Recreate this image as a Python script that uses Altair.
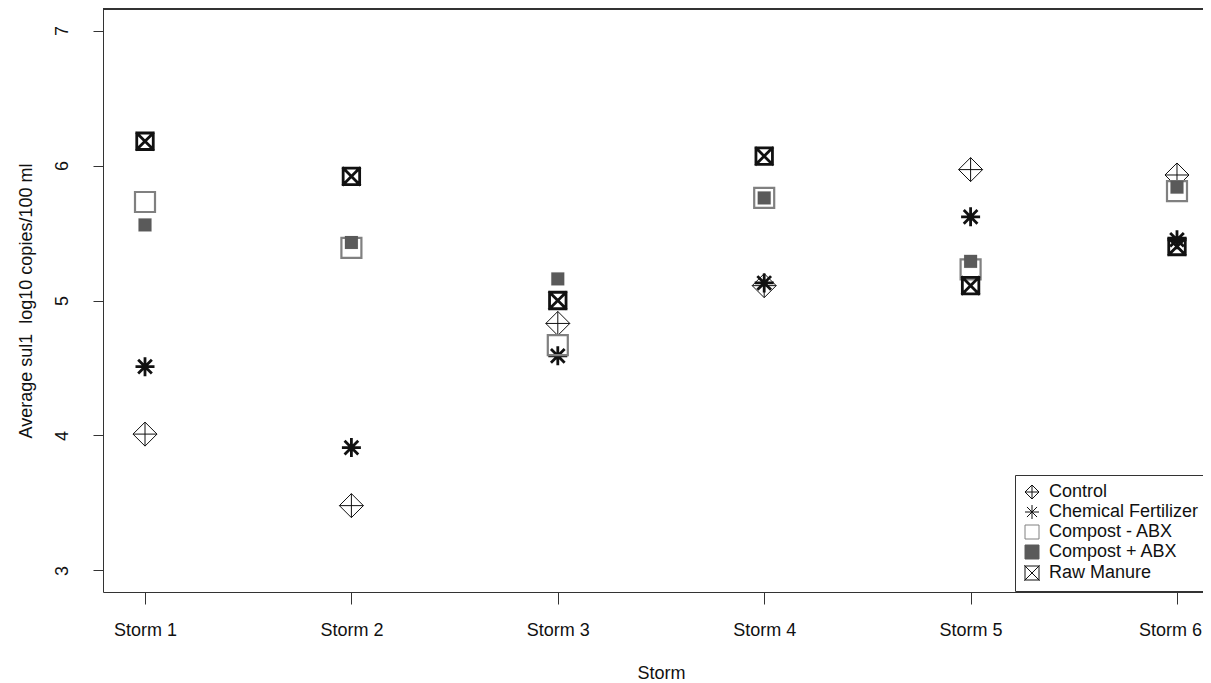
import altair as alt
import pandas as pd

storms = [1, 2, 3, 4, 5, 6]
series_names = ["Control", "Chemical Fertilizer", "Compost - ABX", "Compost + ABX", "Raw Manure"]
control = [4.01, 3.48, 4.83, 5.11, 5.97, 5.93]
chemical = [4.51, 3.91, 4.59, 5.13, 5.62, 5.45]
compost_minus = [5.73, 5.39, 4.67, 5.76, 5.23, 5.81]
compost_plus = [5.56, 5.43, 5.16, 5.76, 5.29, 5.84]
raw_manure = [6.18, 5.92, 5.00, 6.07, 5.11, 5.40]

values = [control, chemical, compost_minus, compost_plus, raw_manure]
rows = []
for name, vals in zip(series_names, values):
    for s, v in zip(storms, vals):
        rows.append({"Storm": s, "Series": name, "Value": v})
df = pd.DataFrame(rows)

shapes = [
    "M0,-1L1,0L0,1L-1,0Z M0,-1L0,1 M-1,0L1,0",
    "M0,-1L0,1 M-1,0L1,0 M-0.72,-0.72L0.72,0.72 M-0.72,0.72L0.72,-0.72",
    "M-1,-1L1,-1L1,1L-1,1Z",
    "M-1,-1L1,-1L1,1L-1,1Z",
    "M-1,-1L1,-1L1,1L-1,1Z M-1.1,-1.1L1.1,1.1 M-1.1,1.1L1.1,-1.1",
]
fills = ["transparent", "transparent", "transparent", "#5a5a5a", "transparent"]
strokes = ["#111111", "#111111", "#808080", "#5a5a5a", "#111111"]
stroke_widths = [1, 2.8, 2.2, 0.1, 2.8]
sizes = [576, 361, 400, 169, 272]

W = 1100
H = 583
FONT = "Liberation Sans"
FS = 18

x_enc = alt.X("Storm:Q",
              scale=alt.Scale(domain=[0.7965, 6.126], nice=False, zero=False),
              axis=alt.Axis(values=storms, labelExpr="'Storm ' + datum.value",
                            title="Storm", grid=False, tickSize=12, labelPadding=17,
                            labelOffset={"condition": {"test": "datum.value == 6", "value": -7}, "value": 0},
                            labelFontSize=FS, titleFontSize=FS, labelFont=FONT, titleFont=FONT,
                            labelColor="#111", titleColor="#111", domainColor="#333", tickColor="#333",
                            labelFlush=False, labelOverlap=False, titleFontWeight="normal",
                            titleX=558, titleY=81, titleBaseline="middle"))
y_enc = alt.Y("Value:Q",
              scale=alt.Scale(domain=[2.84, 7.16], nice=False, zero=False),
              axis=alt.Axis(values=[3, 4, 5, 6, 7], title="Average sul1\u00a0 log10 copies/100 ml",
                            grid=False, tickSize=10, labelAngle=270, labelAlign="center",
                            labelBaseline="middle", labelPadding=31,
                            labelFontSize=FS, titleFontSize=FS, labelFont=FONT, titleFont=FONT,
                            labelColor="#111", titleColor="#111", domainColor="#333", tickColor="#333",
                            titleFontWeight="normal", titleAngle=270, titleX=-77, titleY=H / 2,
                            titleBaseline="middle", titleAlign="center", labelFlush=False))
shape_enc = alt.Shape("Series:N", scale=alt.Scale(domain=series_names, range=shapes), title=None)
fill_enc = alt.Fill("Series:N", scale=alt.Scale(domain=series_names, range=fills), title=None)
stroke_enc = alt.Stroke("Series:N", scale=alt.Scale(domain=series_names, range=strokes), title=None)

layers = []
for name, sz, sw in zip(series_names, sizes, stroke_widths):
    layers.append(
        alt.Chart(df).transform_filter(alt.datum.Series == name)
        .mark_point(opacity=1, size=sz, strokeWidth=sw)
        .encode(x=x_enc, y=y_enc, shape=shape_enc, fill=fill_enc, stroke=stroke_enc)
    )

top_line = alt.Chart(df).mark_rule(color="#333", strokeWidth=1).encode(
    x=alt.value(0), x2=alt.value(W + 20), y=alt.value(0)
)

chart = alt.layer(*layers, top_line).properties(
    width=W, height=H,
    autosize=alt.AutoSizeParams(type="none"),
    padding={"left": 95, "top": 1, "right": 0, "bottom": 100},
).configure_view(stroke=None).configure_legend(
    orient="none", legendX=912, legendY=466,
    strokeColor="#333", fillColor="white", padding=8, labelFontSize=FS, labelFont=FONT,
    labelColor="#111", symbolSize=196, symbolStrokeWidth=1, rowPadding=2, labelOffset=8,
    cornerRadius=0, labelLimit=400,
)

chart.save("out.html", embed_options={"renderer": "svg", "actions": False})
